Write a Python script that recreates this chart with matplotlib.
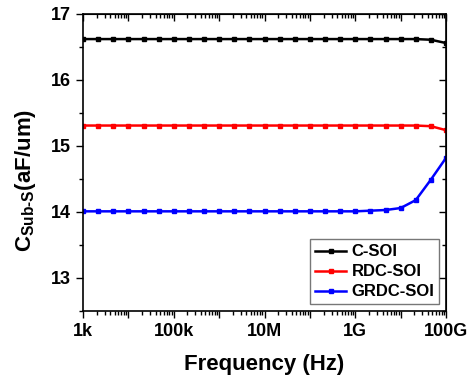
import numpy as np
import matplotlib
matplotlib.use("Agg")
import matplotlib.pyplot as plt
from matplotlib.ticker import LogLocator, MultipleLocator

plt.rcParams['font.family'] = ['Liberation Sans', 'DejaVu Sans']
plt.rcParams['font.weight'] = 'bold'
plt.rcParams['mathtext.fontset'] = 'custom'
plt.rcParams['mathtext.rm'] = 'Liberation Sans:bold'
plt.rcParams['mathtext.bf'] = 'Liberation Sans:bold'

# frequency points: 3 per decade, 1 kHz .. 100 GHz
log_f = [3 + k / 3 for k in range(25)]
freq = [10 ** v for v in log_f]

c_soi = [16.62] * 22 + [16.62, 16.61, 16.56]
rdc_soi = [15.31] * 22 + [15.31, 15.30, 15.24]
grdc_soi = [14.01] * 18 + [14.01, 14.02, 14.03, 14.06, 14.18, 14.49, 14.82]

xt_labels = ['1k', '', '100k', '', '10M', '', '1G', '', '100G']
decades = [10 ** e for e in range(3, 12)]
yt = [13, 14, 15, 16, 17]

fig = plt.figure(figsize=(4.76, 3.77), dpi=100)
ax = fig.add_axes([83 / 476, 1 - 311 / 377, 363 / 476, 297 / 377])

kw = dict(lw=1.8, marker='s', ms=2.2)
ax.plot(freq, c_soi, color='black', label='C-SOI', **kw)
ax.plot(freq, rdc_soi, color='red', label='RDC-SOI', **kw)
ax.plot(freq, grdc_soi, color='blue', label='GRDC-SOI', **kw)

ax.set_xscale('log')
ax.set_xlim(1e3, 1e11)
ax.set_ylim(12.5, 17)

ax.set_xticks(decades)
ax.set_xticklabels(xt_labels)
ax.xaxis.set_minor_locator(LogLocator(base=10, subs=np.arange(2, 10), numticks=20))
ax.set_yticks(yt)
ax.yaxis.set_minor_locator(MultipleLocator(0.5))

ax.tick_params(which='both', direction='out', labelsize=13, width=1)
ax.tick_params(which='major', length=5)
ax.tick_params(which='minor', length=3)
for lab in ax.get_xticklabels() + ax.get_yticklabels():
    lab.set_fontweight('bold')

# mirrored inward ticks on top and right
top = ax.secondary_xaxis('top')
top.set_xticks(decades)
top.xaxis.set_minor_locator(LogLocator(base=10, subs=np.arange(2, 10), numticks=20))
top.tick_params(which='both', direction='in', labeltop=False, width=1)
top.tick_params(which='major', length=5)
top.tick_params(which='minor', length=3)
right = ax.secondary_yaxis('right')
right.set_yticks(yt)
right.yaxis.set_minor_locator(MultipleLocator(0.5))
right.tick_params(which='both', direction='in', labelright=False, width=1)
right.tick_params(which='major', length=5)
right.tick_params(which='minor', length=3)

for s in ax.spines.values():
    s.set_linewidth(1.2)

ax.set_xlabel('Frequency (Hz)', fontsize=16, fontweight='bold', labelpad=10)
ax.set_ylabel(r'C$\mathregular{_{Sub\text{-}S}}$(aF/um)', fontsize=16, fontweight='bold')
ax.yaxis.set_label_coords(-0.125, 0.44)

leg = ax.legend(loc='lower right', fontsize=12, frameon=True, fancybox=False,
                edgecolor='#555555', handlelength=1.9, handletextpad=0.3,
                labelspacing=0.3, borderpad=0.3, borderaxespad=0.4)
leg.get_frame().set_linewidth(1)
for t in leg.get_texts():
    t.set_fontweight('bold')

fig.savefig('out.png', dpi=100)
